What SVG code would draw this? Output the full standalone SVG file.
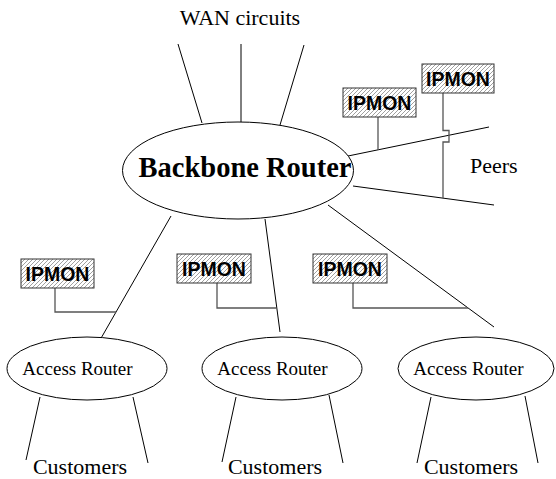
<svg xmlns="http://www.w3.org/2000/svg" width="556" height="479" viewBox="0 0 556 479">
<style>
.ln{stroke:#000;stroke-width:1;fill:none}
.mon{stroke:#555;stroke-width:1.3;fill:none}
.ell{fill:#fff;stroke:#000;stroke-width:1}
.box{fill:url(#hatch);stroke:#333;stroke-width:1}
.serif{font-family:"Liberation Serif","Times New Roman",serif;fill:#000}
.ipm{font-family:"Liberation Sans",Arial,sans-serif;font-weight:bold;font-size:19.5px;fill:#000;text-anchor:middle}
</style>
<defs>
<pattern id="hatch" patternUnits="userSpaceOnUse" width="4" height="4">
<rect width="4" height="4" fill="#fff"/>
<path d="M-1,1 L1,-1 M0,4 L4,0 M3,5 L5,3" stroke="#888" stroke-width="0.8"/>
</pattern>
</defs>
<g id="connectors">
<line class="ln" x1="178" y1="44" x2="202" y2="123"/>
<line class="ln" x1="241" y1="44" x2="241" y2="122"/>
<line class="ln" x1="304" y1="45" x2="280" y2="125"/>
<line class="ln" x1="348" y1="156" x2="489" y2="127"/>
<line class="ln" x1="353" y1="186" x2="494" y2="205"/>
<line class="ln" x1="171" y1="216" x2="100" y2="340"/>
<line class="ln" x1="265" y1="219" x2="280" y2="332"/>
<line class="ln" x1="328" y1="205" x2="494" y2="327"/>
<line class="ln" x1="40" y1="397" x2="26" y2="460"/>
<line class="ln" x1="133" y1="397" x2="148" y2="463"/>
<line class="ln" x1="236" y1="397" x2="222" y2="462"/>
<line class="ln" x1="329" y1="395" x2="343" y2="463"/>
<line class="ln" x1="431" y1="397" x2="417" y2="463"/>
<line class="ln" x1="525" y1="396" x2="538" y2="463"/>
<path class="mon" d="M378,117 V150"/>
<path class="mon" d="M443,93 V130.5 H449 V142 H443 V198"/>
<path class="mon" d="M55,288 V312 H116"/>
<path class="mon" d="M217,283 V308 H276"/>
<path class="mon" d="M353,283 V308 H468"/>
</g>
<g id="wan-label"><text class="serif" x="240" y="25" font-size="22" text-anchor="middle">WAN circuits</text></g>
<g id="backbone">
<ellipse class="ell" cx="238" cy="170.5" rx="115.5" ry="48.5"/>
<text class="serif" x="245" y="177" font-size="28.5" font-weight="bold" text-anchor="middle">Backbone Router</text>
</g>
<g id="peers-label"><text class="serif" x="470" y="173" font-size="22">Peers</text></g>
<g id="ipmon-top1"><rect class="box" x="422" y="64" width="72" height="29"/><text class="ipm" x="458" y="86">IPMON</text></g>
<g id="ipmon-top2"><rect class="box" x="343" y="88" width="73" height="29"/><text class="ipm" x="379.5" y="110">IPMON</text></g>
<g id="ipmon-a"><rect class="box" x="21" y="259" width="73" height="29"/><text class="ipm" x="57.5" y="281">IPMON</text></g>
<g id="ipmon-b"><rect class="box" x="177" y="254" width="74" height="29"/><text class="ipm" x="214" y="276">IPMON</text></g>
<g id="ipmon-c"><rect class="box" x="313" y="254" width="74" height="29"/><text class="ipm" x="350" y="276">IPMON</text></g>
<g id="access1">
<ellipse class="ell" cx="87" cy="368.5" rx="80" ry="31.5"/>
<text class="serif" x="77.5" y="375" font-size="19" text-anchor="middle">Access Router</text>
</g>
<g id="access2">
<ellipse class="ell" cx="282" cy="368.5" rx="80" ry="31.5"/>
<text class="serif" x="272.5" y="375" font-size="19" text-anchor="middle">Access Router</text>
</g>
<g id="access3">
<ellipse class="ell" cx="476" cy="368.5" rx="78" ry="31.5"/>
<text class="serif" x="468.5" y="375" font-size="19" text-anchor="middle">Access Router</text>
</g>
<g id="customers">
<text class="serif" x="80" y="474" font-size="22" text-anchor="middle">Customers</text>
<text class="serif" x="275" y="474" font-size="22" text-anchor="middle">Customers</text>
<text class="serif" x="471" y="474" font-size="22" text-anchor="middle">Customers</text>
</g>
</svg>
